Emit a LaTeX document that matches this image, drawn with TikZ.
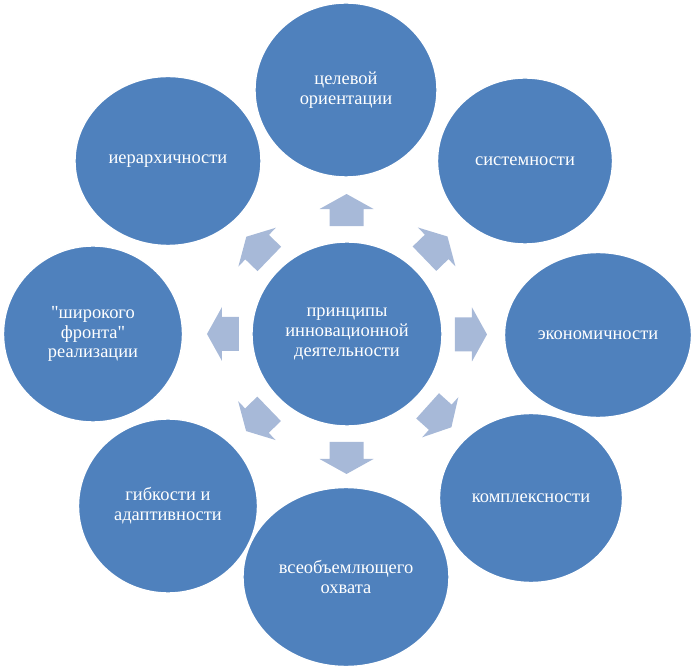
\documentclass[tikz,border=0pt]{standalone}
\usepackage{fontspec}
\setmainfont{Liberation Serif}
\newfontfamily\bubblefont{Liberation Serif}
\usepackage{xcolor}
\usepackage{tikz}
\usetikzlibrary{shapes.geometric,calc}

\definecolor{bubbleblue}{RGB}{79,129,189}
\definecolor{arrowgray}{RGB}{167,185,216}

\begin{document}
\begin{tikzpicture}[bubble/.style={ellipse, fill=bubbleblue, draw=white, line width=0.8pt, inner sep=0pt, align=center, text=white, font=\bubblefont\fontsize{10.5}{11.2}\selectfont}, blockarrow/.style={fill=arrowgray}]
  \useasboundingbox (-6.94,-6.72) rectangle (6.98,6.68);
  \node[bubble, minimum width=3.8cm, minimum height=3.68cm] (core) at (0,0) {принципы\\ инновационной\\ деятельности};
  \node[bubble, minimum width=3.64cm, minimum height=3.48cm] (goal) at (-0.02,4.88) {целевой\\ ориентации};
  \node[bubble, minimum width=3.5cm, minimum height=3.32cm] (system) at (3.56,3.46) {системности};
  \node[bubble, minimum width=3.74cm, minimum height=3.3cm] (econ) at (5.02,-0.02) {экономичности};
  \node[bubble, minimum width=3.66cm, minimum height=3.38cm] (complex) at (3.68,-3.28) {комплексности};
  \node[bubble, minimum width=4.12cm, minimum height=3.58cm] (scope) at (-0.02,-4.86) {всеобъемлющего\\ охвата};
  \node[bubble, minimum width=3.58cm, minimum height=3.48cm] (flex) at (-3.58,-3.44) {гибкости и\\ адаптивности};
  \node[bubble, minimum width=3.58cm, minimum height=3.52cm] (front) at (-5.08,0) {\textquotedbl широкого\\ фронта\textquotedbl\\ реализации};
  \node[bubble, minimum width=3.72cm, minimum height=3.38cm] (hier) at (-3.58,3.46) {иерархичности};
  \foreach \n/\a in {goal/90, system/44, econ/0, complex/-42, scope/-90, flex/-136, front/180, hier/136}
    \fill[blockarrow, shift={($(core)!2.16cm!(\n)$)}, rotate=\a] (0,-0.34) -- (0.34,-0.34) -- (0.34,-0.54) -- (0.64,0) -- (0.34,0.54) -- (0.34,0.34) -- (0,0.34) -- cycle;
\end{tikzpicture}
\end{document}
